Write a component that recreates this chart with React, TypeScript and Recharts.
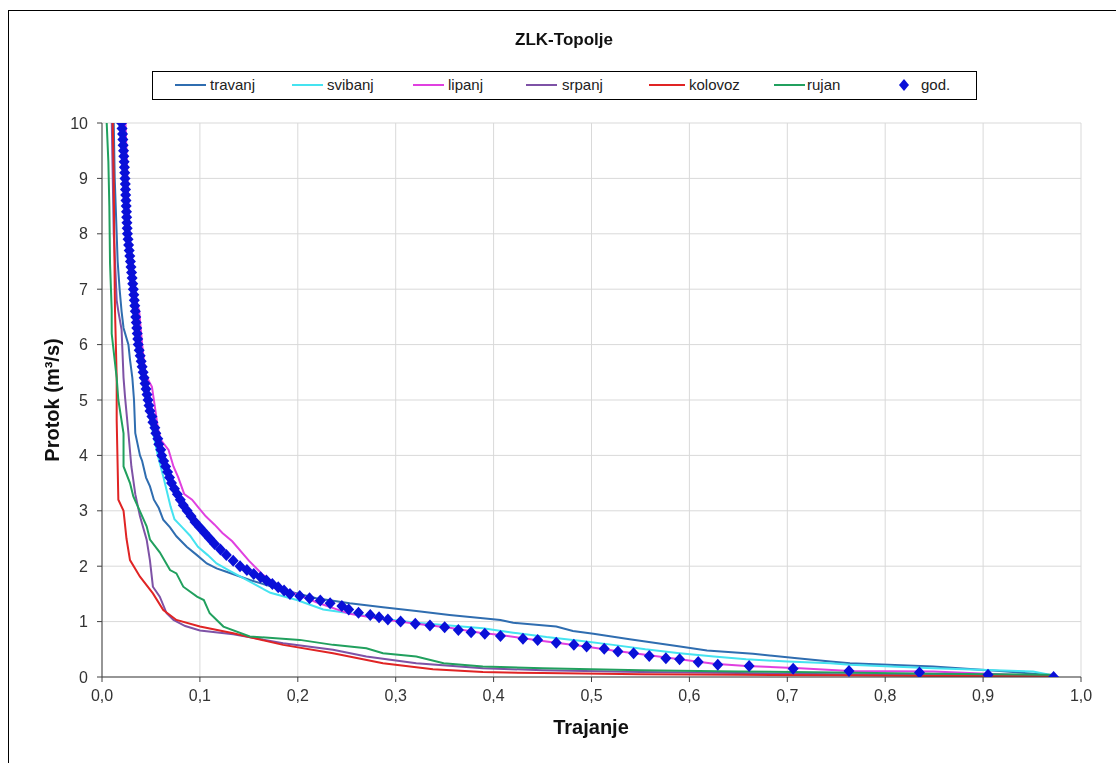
import React from 'react';
import { ComposedChart, Line, Scatter, XAxis, YAxis, CartesianGrid } from 'recharts';

const xTicks = [0, 0.1, 0.2, 0.3, 0.4, 0.5, 0.6, 0.7, 0.8, 0.9, 1.0];
const yTicks = [0, 1, 2, 3, 4, 5, 6, 7, 8, 9, 10];
const seriesNames = ['travanj', 'svibanj', 'lipanj', 'srpanj', 'kolovoz', 'rujan', 'god.'];

const travanj: number[][] = [[0.012,10],[0.013,9],[0.015,8],[0.016,7.5],[0.018,7],[0.020,6.6],[0.022,6.3],[0.027,6.0],[0.0286,5.73],[0.031,5.4],[0.0327,5.0],[0.034,4.4],[0.0388,4.0],[0.041,3.9],[0.045,3.6],[0.049,3.44],[0.053,3.2],[0.058,3.05],[0.0625,2.84],[0.0695,2.7],[0.076,2.54],[0.0865,2.35],[0.097,2.2],[0.107,2.05],[0.117,1.96],[0.127,1.9],[0.151,1.75],[0.185,1.57],[0.219,1.42],[0.253,1.33],[0.287,1.26],[0.321,1.19],[0.355,1.12],[0.389,1.06],[0.407,1.03],[0.420,0.98],[0.464,0.91],[0.481,0.83],[0.502,0.78],[0.539,0.68],[0.587,0.56],[0.618,0.48],[0.665,0.42],[0.710,0.34],[0.744,0.28],[0.764,0.25],[0.849,0.19],[0.917,0.11],[0.965,0.04]];

const svibanj: number[][] = [[0.019,10],[0.022,9],[0.025,8],[0.030,7],[0.035,6],[0.045,5],[0.057,4],[0.0626,3.62],[0.067,3.3],[0.070,3.08],[0.074,2.85],[0.082,2.7],[0.090,2.55],[0.098,2.35],[0.108,2.2],[0.117,2.05],[0.130,1.92],[0.151,1.72],[0.172,1.52],[0.199,1.39],[0.226,1.22],[0.253,1.15],[0.287,1.05],[0.321,0.98],[0.355,0.93],[0.389,0.88],[0.42,0.80],[0.454,0.72],[0.49,0.65],[0.522,0.58],[0.555,0.50],[0.590,0.43],[0.625,0.37],[0.658,0.32],[0.70,0.28],[0.744,0.25],[0.764,0.22],[0.849,0.16],[0.951,0.10],[0.968,0.04]];

const lipanj: number[][] = [[0.024,10],[0.026,9],[0.028,8],[0.031,7.3],[0.035,6.8],[0.038,6.6],[0.041,6.0],[0.0445,5.45],[0.051,5.24],[0.054,4.88],[0.057,4.5],[0.060,4.28],[0.068,4.1],[0.073,3.8],[0.078,3.6],[0.084,3.3],[0.092,3.2],[0.099,3.05],[0.106,2.9],[0.115,2.75],[0.123,2.6],[0.133,2.45],[0.150,2.1],[0.164,1.85],[0.184,1.6],[0.219,1.35],[0.253,1.14],[0.287,1.04],[0.321,0.96],[0.355,0.89],[0.386,0.80],[0.407,0.76],[0.454,0.64],[0.49,0.56],[0.522,0.48],[0.555,0.40],[0.590,0.32],[0.625,0.24],[0.658,0.20],[0.713,0.16],[0.764,0.11],[0.849,0.10],[0.917,0.05],[0.968,0.01]];

const srpanj: number[][] = [[0.010,10],[0.011,9],[0.012,8],[0.0133,7.5],[0.015,6.8],[0.0167,6.6],[0.020,6.27],[0.022,5.4],[0.0235,5.06],[0.027,4.4],[0.030,3.8],[0.034,3.3],[0.0388,2.9],[0.0456,2.48],[0.049,2.1],[0.052,1.63],[0.059,1.45],[0.066,1.15],[0.073,1.03],[0.085,0.92],[0.100,0.84],[0.134,0.77],[0.185,0.61],[0.236,0.49],[0.270,0.37],[0.321,0.25],[0.389,0.16],[0.45,0.12],[0.55,0.09],[0.65,0.07],[0.75,0.05],[0.85,0.04],[0.97,0.02]];

const kolovoz: number[][] = [[0.011,10],[0.012,9],[0.0125,8],[0.013,7],[0.0133,6.6],[0.015,5.4],[0.015,4.64],[0.0167,3.2],[0.022,3.0],[0.025,2.5],[0.0286,2.11],[0.0388,1.81],[0.052,1.51],[0.0626,1.21],[0.076,1.03],[0.100,0.91],[0.134,0.79],[0.185,0.58],[0.236,0.43],[0.287,0.25],[0.338,0.14],[0.389,0.09],[0.45,0.07],[0.55,0.05],[0.65,0.04],[0.75,0.03],[0.85,0.02],[0.97,0.01]];

const rujan: number[][] = [[0.0048,10],[0.0065,9.3],[0.0075,8.5],[0.0082,7.47],[0.0099,6.63],[0.0099,6.2],[0.015,5.4],[0.0167,5.0],[0.022,4.4],[0.022,3.8],[0.0286,3.5],[0.032,3.26],[0.0456,2.72],[0.049,2.48],[0.059,2.25],[0.0695,1.93],[0.076,1.87],[0.083,1.63],[0.097,1.45],[0.104,1.39],[0.110,1.15],[0.124,0.91],[0.151,0.73],[0.202,0.67],[0.236,0.58],[0.270,0.52],[0.287,0.43],[0.321,0.37],[0.349,0.25],[0.389,0.19],[0.45,0.16],[0.55,0.12],[0.65,0.10],[0.75,0.08],[0.85,0.06],[0.97,0.04]];

const god: number[][] = [[0.020,10.0],[0.0205,9.9],[0.021,9.8],[0.0213,9.7],[0.0216,9.6],[0.022,9.5],[0.0223,9.4],[0.0226,9.3],[0.0229,9.2],[0.0232,9.1],[0.0235,9.0],[0.0238,8.9],[0.024,8.8],[0.0242,8.7],[0.0245,8.6],[0.0247,8.5],[0.025,8.4],[0.0252,8.3],[0.0255,8.2],[0.0257,8.1],[0.026,8.0],[0.0266,7.9],[0.0272,7.8],[0.0278,7.7],[0.0284,7.6],[0.029,7.5],[0.0296,7.4],[0.0302,7.3],[0.0308,7.2],[0.0314,7.1],[0.032,7.0],[0.0325,6.9],[0.033,6.8],[0.0335,6.7],[0.034,6.6],[0.0345,6.5],[0.035,6.4],[0.0355,6.3],[0.036,6.2],[0.0365,6.1],[0.037,6.0],[0.038,5.9],[0.039,5.8],[0.040,5.7],[0.041,5.6],[0.042,5.5],[0.043,5.4],[0.044,5.3],[0.045,5.2],[0.046,5.1],[0.047,5.0],[0.048,4.9],[0.049,4.8],[0.051,4.7],[0.052,4.6],[0.054,4.5],[0.055,4.4],[0.057,4.3],[0.058,4.2],[0.060,4.1],[0.061,4.0],[0.063,3.9],[0.065,3.8],[0.067,3.7],[0.069,3.6],[0.071,3.5],[0.074,3.4],[0.077,3.3],[0.080,3.2],[0.083,3.1],[0.087,3.0],[0.091,2.9],[0.095,2.8],[0.100,2.7],[0.105,2.6],[0.110,2.5],[0.115,2.4],[0.121,2.3],[0.127,2.2],[0.134,2.1],[0.141,2.0],[0.148,1.93],[0.155,1.86],[0.162,1.8],[0.168,1.74],[0.174,1.68],[0.180,1.62],[0.186,1.56],[0.192,1.5],[0.202,1.46],[0.212,1.42],[0.223,1.38],[0.233,1.33],[0.245,1.28],[0.252,1.22],[0.262,1.16],[0.274,1.12],[0.283,1.08],[0.292,1.04],[0.305,1.0],[0.320,0.96],[0.335,0.93],[0.350,0.90],[0.364,0.85],[0.377,0.81],[0.391,0.78],[0.407,0.74],[0.430,0.69],[0.445,0.67],[0.464,0.62],[0.482,0.58],[0.495,0.55],[0.513,0.51],[0.527,0.46],[0.543,0.43],[0.559,0.38],[0.576,0.34],[0.590,0.32],[0.609,0.27],[0.629,0.22],[0.661,0.20],[0.706,0.15],[0.763,0.11],[0.835,0.08],[0.905,0.04],[0.972,0.0]];

const toPts = (a: number[][]) => a.map(([x, y]) => ({ x, y }));

const lineSeries = [
  { name: seriesNames[0], data: toPts(travanj), color: '#2F6DB0' },
  { name: seriesNames[1], data: toPts(svibanj), color: '#45E3F0' },
  { name: seriesNames[2], data: toPts(lipanj), color: '#E040E0' },
  { name: seriesNames[3], data: toPts(srpanj), color: '#7E52A6' },
  { name: seriesNames[4], data: toPts(kolovoz), color: '#E02424' },
  { name: seriesNames[5], data: toPts(rujan), color: '#21A05E' },
];
const godColor = '#0A10D8';
const godData = toPts(god);

const FONT = '"Liberation Sans", Arial, sans-serif';

const legendPos = [
  { line: 22, text: 57 },
  { line: 139, text: 174 },
  { line: 260, text: 295 },
  { line: 373, text: 409 },
  { line: 496, text: 536 },
  { line: 621, text: 654 },
  { line: 751, text: 768 },
];

const LegendBox = () => (
  <div style={{ position: 'absolute', left: 144, top: 63, width: 825, height: 29, border: '1px solid #000', background: '#fff', boxSizing: 'border-box', fontFamily: FONT, fontSize: 15, color: '#222' }}>
    {seriesNames.map((n, i) => {
      const p = legendPos[i];
      const isGod = i === 6;
      const color = isGod ? godColor : lineSeries[i].color;
      return (
        <React.Fragment key={n}>
          {isGod ? (
            <svg style={{ position: 'absolute', left: p.line - 5, top: 7 }} width={10} height={12}>
              <polygon points="5,0 10,6 5,12 0,6" fill={color} />
            </svg>
          ) : (
            <div style={{ position: 'absolute', left: p.line, top: 12, width: i === 4 ? 36 : 31, height: 2, background: color }} />
          )}
          <div style={{ position: 'absolute', left: p.text, top: 4, lineHeight: '18px', whiteSpace: 'nowrap' }}>{n}</div>
        </React.Fragment>
      );
    })}
  </div>
);

const Diamond = (props: any) => {
  const { cx, cy } = props;
  if (cx == null || cy == null) return null;
  return <polygon points={`${cx},${cy - 6} ${cx + 5.5},${cy} ${cx},${cy + 6} ${cx - 5.5},${cy}`} fill={godColor} />;
};

const fmtX = (v: number) => v.toFixed(1).replace('.', ',');

export default function App() {
  return (
    <div style={{ position: 'relative', width: 1100, height: 747, background: '#fff', fontFamily: FONT }}>
      <div style={{ position: 'fixed', left: 8, top: 10, width: 1300, height: 1000, borderLeft: '1px solid #000', borderTop: '1px solid #000', pointerEvents: 'none' }} />
      <div style={{ position: 'absolute', left: 0, width: 1112, top: 22, textAlign: 'center', fontWeight: 'bold', fontSize: 17, color: '#111' }}>ZLK-Topolje</div>
      <LegendBox />
      <ComposedChart width={1100} height={747} margin={{ top: 115, right: 27, bottom: 48, left: 34 }} style={{ position: 'absolute', left: 0, top: 0 }}>
        <CartesianGrid stroke="#D9D9D9" strokeWidth={1} />
        <XAxis
          type="number"
          dataKey="x"
          domain={[0, 1]}
          ticks={xTicks}
          tickFormatter={fmtX}
          allowDataOverflow
          height={30}
          tickSize={5}
          tickMargin={8}
          stroke="#404040"
          tick={{ fill: '#333', fontSize: 16, fontFamily: FONT }}
          label={{
            content: () => (
              <text x={583} y={726} textAnchor="middle" fontWeight="bold" fontSize={20} fill="#111" fontFamily={FONT}>Trajanje</text>
            ),
          }}
        />
        <YAxis
          type="number"
          dataKey="y"
          domain={[0, 10]}
          ticks={yTicks}
          allowDataOverflow
          width={60}
          tickSize={5}
          tickMargin={9}
          stroke="#404040"
          tick={{ fill: '#333', fontSize: 16, fontFamily: FONT }}
          label={{
            content: () => (
              <text x={44} y={392} transform="rotate(-90 44 392)" textAnchor="middle" dominantBaseline="central" fontWeight="bold" fontSize={20} fill="#111" fontFamily={FONT}>
                Protok (m³/s)
              </text>
            ),
          }}
        />
        {lineSeries.map((s) => (
          <Line key={s.name} name={s.name} data={s.data} dataKey="y" type="linear" stroke={s.color} strokeWidth={2} dot={false} activeDot={false} isAnimationActive={false} />
        ))}
        <Scatter name="god." data={godData} dataKey="y" fill={godColor} shape={<Diamond />} isAnimationActive={false} />
      </ComposedChart>
    </div>
  );
}
